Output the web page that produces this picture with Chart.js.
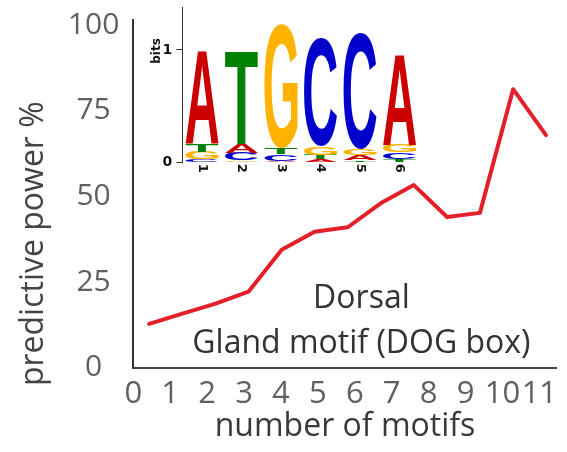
<!DOCTYPE html>
<html>
<head>
<meta charset="utf-8">
<script src="https://cdn.jsdelivr.net/npm/chart.js@4.4.1/dist/chart.umd.min.js"></script>
<style>
  html, body { margin: 0; padding: 0; background: #ffffff; }
  #wrap { position: relative; width: 567px; height: 452px; }
  #main { position: absolute; left: 0; top: 0; }
  #logo { position: absolute; left: 140px; top: 0; }
</style>
</head>
<body>
<div id="wrap">
  <canvas id="main" width="567" height="452"></canvas>
  <canvas id="logo" width="290" height="185"></canvas>
</div>
<script>
// Predictive power as motifs are added
const motifCounts     = [0.43, 1.33, 2.23, 3.12, 4.02, 4.91, 5.81, 6.70, 7.60, 8.50, 9.39, 10.29, 11.18];
const predictivePower = [12.8, 15.8, 18.7, 22.2, 34.4, 39.7, 41.0, 48.0, 53.3, 44.0, 45.2, 81.3, 67.9];
const xTickValues = [0, 1, 2, 3, 4, 5, 6, 7, 8, 9, 10, 11];
const yTickValues = [0, 25, 50, 75, 100];
const noteLines = ['Dorsal', 'Gland motif (DOG box)'];

// Sequence logo of the motif: letter layers stacked bottom to top per position
const logoPositions = ['1', '2', '3', '4', '5', '6'];
const logoLayerLetters = [
  ['C', 'G', 'A', 'A', 'T', 'T'],
  ['G', 'C', 'C', 'T', 'A', 'C'],
  ['T', 'A', 'T', 'G', 'G', 'G'],
  ['A', 'T', 'G', 'C', 'C', 'A']
];
const logoLayerBits = [
  [0.025, 0.020, 0.015, 0.027, 0.020, 0.030],
  [0.068, 0.065, 0.060, 0.040, 0.045, 0.060],
  [0.071, 0.080, 0.053, 0.075, 0.060, 0.065],
  [0.836, 0.830, 1.100, 0.960, 1.030, 0.815]
];
const logoTickValues = [0, 1];

const FONT = "'Open Sans', sans-serif";
const letterColors = { A: '#cc0000', C: '#0000cc', G: '#ffb300', T: '#008000' };

// Axis title on the left and the two-line note inside the plot
const textPlugin = {
  id: 'textPlugin',
  afterDraw(chart, args, opts) {
    const { ctx, chartArea, scales } = chart;
    ctx.save();
    ctx.fillStyle = opts.titleColor;
    ctx.font = `32px ${FONT}`;
    ctx.textAlign = 'center';
    ctx.textBaseline = 'middle';
    ctx.translate(opts.titleX, chartArea.bottom - opts.titleFromBottom);
    ctx.rotate(-Math.PI / 2);
    ctx.fillText(opts.yTitle, 0, 0);
    ctx.restore();

    ctx.save();
    ctx.fillStyle = opts.noteColor;
    ctx.font = `32px ${FONT}`;
    ctx.textAlign = 'center';
    ctx.textBaseline = 'alphabetic';
    const nx = scales.x.getPixelForValue(opts.noteX);
    noteLines.forEach((line, i) => {
      ctx.fillText(line, nx, scales.y.getPixelForValue(opts.noteY[i]));
    });
    ctx.restore();
  }
};

new Chart(document.getElementById('main'), {
  type: 'line',
  data: {
    datasets: [{
      data: motifCounts.map((x, i) => ({ x, y: predictivePower[i] })),
      borderColor: '#e3202a',
      borderWidth: 4,
      pointRadius: 0,
      tension: 0,
      fill: false,
      borderCapStyle: 'round',
      borderJoinStyle: 'round'
    }]
  },
  options: {
    responsive: false,
    animation: false,
    devicePixelRatio: 1,
    layout: { padding: { top: 20, right: 10.3, left: 0, bottom: 0 } },
    plugins: {
      legend: { display: false },
      tooltip: { enabled: false },
      textPlugin: {
        yTitle: 'predictive power %', titleX: 34, titleFromBottom: 124, titleColor: '#444444',
        noteX: 6.18, noteY: [17.3, 4.2], noteColor: '#333333'
      }
    },
    scales: {
      x: {
        type: 'linear', min: 0, max: 11.47,
        grid: { display: false },
        border: { display: true, color: '#444444', width: 2 },
        afterBuildTicks: s => { s.ticks = xTickValues.map(v => ({ value: v })); },
        afterFit: s => { s.height = 84.3; s.paddingLeft = 0; s.paddingRight = 0; },
        ticks: { autoSkip: false, maxRotation: 0, padding: 0, color: '#606060', font: { family: FONT, size: 31 } },
        title: { display: true, text: 'number of motifs', color: '#3a3a3a', font: { family: FONT, size: 32 }, padding: { top: 0, bottom: 6 } }
      },
      y: {
        type: 'linear', min: 0, max: 101.5,
        grid: { display: false },
        border: { display: true, color: '#333333', width: 2 },
        afterBuildTicks: s => { s.ticks = yTickValues.map(v => ({ value: v })); },
        afterFit: s => { s.width = 133.3; s.paddingTop = 0; s.paddingBottom = 0; },
        ticks: { crossAlign: 'center', padding: 6, color: '#606060', font: { family: FONT, size: 30 } }
      }
    }
  },
  plugins: [textPlugin]
});

// Draws one letter stretched to fill the given box
function drawGlyph(ctx, ch, left, top, w, h) {
  if (h < 0.3 || w <= 0) return;
  ctx.save();
  ctx.font = "bold 100px 'Liberation Sans', Arial, sans-serif";
  ctx.textAlign = 'left';
  ctx.textBaseline = 'alphabetic';
  const m = ctx.measureText(ch);
  const gw = m.actualBoundingBoxLeft + m.actualBoundingBoxRight;
  const gh = m.actualBoundingBoxAscent + m.actualBoundingBoxDescent;
  ctx.translate(left, top + h);
  ctx.scale(w / gw, h / gh);
  ctx.fillStyle = letterColors[ch];
  ctx.fillText(ch, m.actualBoundingBoxLeft, -m.actualBoundingBoxDescent);
  ctx.restore();
}

const logoLetters = {
  id: 'logoLetters',
  afterDatasetsDraw(chart) {
    const { ctx, chartArea, scales } = chart;
    chart.data.datasets.forEach((ds, di) => {
      const meta = chart.getDatasetMeta(di);
      meta.data.forEach((bar, i) => {
        const { x, y, base, width } = bar.getProps(['x', 'y', 'base', 'width'], true);
        drawGlyph(ctx, ds.letters[i], x - width / 2, y, width, base - y);
      });
    });
    // position numbers under the columns
    ctx.save();
    ctx.fillStyle = '#111111';
    ctx.font = "bold 13px 'DejaVu Sans', sans-serif";
    ctx.textAlign = 'center';
    ctx.textBaseline = 'middle';
    logoPositions.forEach((p, i) => {
      ctx.save();
      ctx.translate(scales.x.getPixelForValue(i), chartArea.bottom + 6);
      ctx.rotate(Math.PI / 2);
      ctx.fillText(p, 0, 0);
      ctx.restore();
    });
    // axis title
    ctx.save();
    ctx.font = "bold 12px 'DejaVu Sans', sans-serif";
    ctx.translate(chartArea.left - 25, scales.y.getPixelForValue(1) + 1);
    ctx.rotate(-Math.PI / 2);
    ctx.fillText('bits', 0, 0);
    ctx.restore();
    ctx.restore();
  }
};

new Chart(document.getElementById('logo'), {
  type: 'bar',
  data: {
    labels: logoPositions,
    datasets: logoLayerBits.map((bits, k) => ({
      data: bits,
      letters: logoLayerLetters[k],
      backgroundColor: 'rgba(0,0,0,0)',
      borderWidth: 0,
      barPercentage: 0.84,
      categoryPercentage: 1
    }))
  },
  options: {
    responsive: false,
    animation: false,
    devicePixelRatio: 1,
    layout: { padding: { top: 7.3, right: 10.7, left: 0, bottom: 0 } },
    plugins: { legend: { display: false }, tooltip: { enabled: false } },
    scales: {
      x: {
        stacked: true,
        grid: { display: false },
        border: { display: false },
        ticks: { display: false },
        afterFit: s => { s.height = 22.7; s.paddingLeft = 0; s.paddingRight = 0; }
      },
      y: {
        stacked: true, min: 0, max: 1.38,
        border: { display: true, color: '#333333', width: 1 },
        grid: { display: true, drawOnChartArea: false, drawTicks: true, tickLength: 6, color: '#333333' },
        afterBuildTicks: s => { s.ticks = logoTickValues.map(v => ({ value: v })); },
        afterFit: s => { s.width = 42.3; s.paddingTop = 0; s.paddingBottom = 0; },
        ticks: { padding: 4, color: '#111111', font: { family: "'DejaVu Sans', sans-serif", size: 14, weight: 'bold' } }
      }
    }
  },
  plugins: [logoLetters]
});
</script>
</body>
</html>
